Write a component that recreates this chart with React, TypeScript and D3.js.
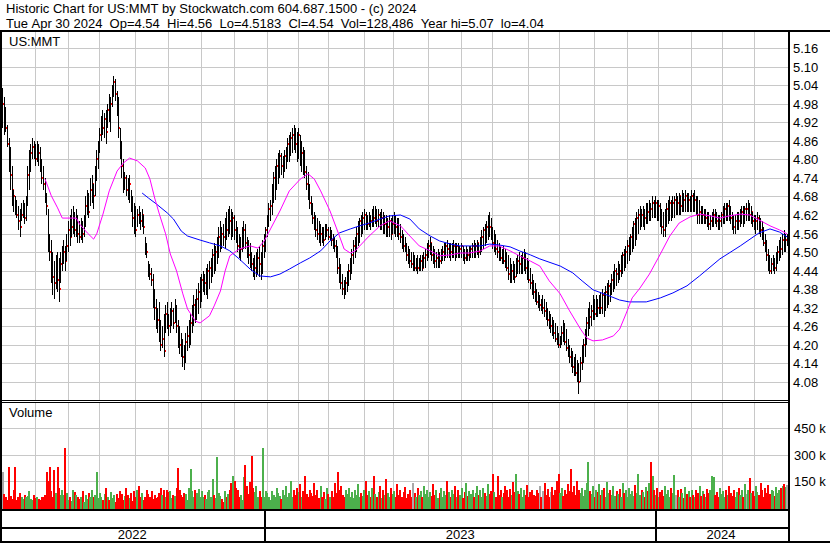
import React from "react";
import * as d3 from "d3";

const HEADER1 = "Historic Chart for US:MMT by Stockwatch.com 604.687.1500 - (c) 2024";
const HEADER2 = "Tue Apr 30 2024  Op=4.54  Hi=4.56  Lo=4.5183  Cl=4.54  Vol=128,486  Year hi=5.07  lo=4.04";
const SYMBOL = "US:MMT";

// trading days per month, May 2022 .. Apr 2024
const MONTH_DAYS = [21,21,20,23,21,21,21,21, 20,19,23,19,22,21,20,23,20,22,21,20, 21,20,20,22];
const YEARS = ["2022", "2023", "2024"];
const YEAR_FIRST_MONTH = [0, 8, 20];

const PRICE_TICKS = [5.16,5.10,5.04,4.98,4.92,4.86,4.80,4.74,4.68,4.62,4.56,4.50,4.44,4.38,4.32,4.26,4.20,4.14,4.08];
const VOLUME_TICKS = [150, 300, 450];

// prices in cents
const HIGH = [
503,500,497,491,487,484,478,470,468,467, 465,464,466,467,466,468,478,483,485,487,
486,485,486,485,484,480,478,474,469,464, 456,454,450,447,449,450,448,450,452,454,
452,456,460,462,464,465,463,464,462,460, 461,460,462,468,470,469,474,475,472,478,
483,486,490,494,496,495,496,498,501,500, 504,507,506,502,500,490,486,480,476,475,
474,475,470,468,466,465,464,465,463,464, 462,455,453,447,446,445,443,438,435,432,
434,428,426,430,433,434,430,432,434,432, 435,433,428,426,424,422,420,424,426,428,
430,433,436,435,438,440,442,443,444,443, 445,446,447,448,451,453,452,455,458,460,
458,459,461,463,464,465,464,463,462,460, 458,456,455,458,460,459,455,454,453,450,
448,449,450,451,452,450,454,456,458,462, 466,467,472,476,478,480,482,483,482,481,
483,484,487,488,489,490,491,490,489,490, 488,486,484,483,478,476,472,468,466,463,
462,461,460,459,458,458,459,459,458,458, 457,456,455,454,452,448,446,443,441,442,
444,446,448,451,454,455,458,460,461,462, 463,464,463,462,463,462,464,465,465,464,
464,463,464,463,462,462,461,462,461,462, 463,462,461,461,459,457,456,455,453,452,
451,450,450,449,448,449,448,449,449,450, 451,453,454,455,453,452,451,450,451,450,
451,452,453,453,454,453,453,453,454,453, 453,453,452,453,452,451,452,451,452,452,
453,454,453,454,453,455,457,458,459,460, 462,463,461,458,457,456,454,453,452,451,
452,451,450,449,448,446,447,446,448,449, 450,449,450,451,450,448,447,445,443,441,
440,438,437,436,435,436,435,434,432,431, 430,429,428,427,426,424,423,426,428,427,
425,422,420,419,418,416,417,415,414,416, 420,422,425,429,432,434,433,436,435,436,
435,436,437,438,437,439,440,441,440,443, 444,446,445,447,446,449,450,451,452,454,
455,456,458,460,461,463,464,465,464,465, 464,466,466,467,466,468,467,468,467,467,
466,464,463,464,466,467,468,467,468,468, 469,468,469,468,470,469,470,469,469,468,
470,469,470,468,468,467,465,465,464,464, 463,463,462,463,464,464,463,462,462,463,
465,466,466,466,467,465,463,462,462,463, 463,464,465,465,465,466,467,466,465,463,
462,462,463,462,461,460,458,456,454,451, 449,448,449,448,450,452,454,455,456,457,
456,456
];
const LOW = [
490,488,489,484,476,470,465,463,462,461, 457,455,460,461,459,460,465,470,476,480,
480,478,479,478,476,472,470,466,462,450, 447,440,436,435,438,437,434,440,444,446,
444,447,450,452,455,456,455,455,453,453, 454,453,455,458,462,461,465,466,464,468,
473,477,482,486,488,487,485,490,492,489, 497,500,499,494,487,480,474,469,470,468,
467,466,463,458,456,455,458,459,457,458, 456,449,448,442,441,439,432,428,425,424,
421,418,419,416,424,425,423,424,426,425, 427,424,419,417,416,413,412,414,418,419,
420,424,426,427,428,430,432,434,437,436, 436,435,438,440,442,443,444,446,448,450,
451,452,451,454,455,456,454,455,454,453, 450,448,447,450,451,451,448,446,445,444,
442,441,442,443,442,441,443,448,450,455, 458,460,462,466,467,470,472,474,475,474,
476,477,479,479,481,482,483,482,479,480, 478,476,475,474,470,467,464,462,459,457,
455,454,453,452,453,452,454,455,454,454, 452,451,450,448,443,440,438,436,435,436,
437,439,441,443,446,448,450,452,453,455, 456,457,457,457,458,457,458,458,459,458,
458,457,457,456,456,455,455,455,454,456, 456,455,455,454,453,451,450,450,447,446,
445,445,444,444,444,443,444,444,444,445, 445,447,448,449,447,446,445,445,445,445,
446,447,447,448,448,448,447,448,448,447, 448,448,448,448,447,446,447,447,447,448,
448,448,448,449,448,449,450,451,452,453, 454,455,454,451,450,449,448,447,447,446,
446,445,444,441,440,440,441,440,442,443, 443,443,443,444,443,441,440,438,436,435,
434,433,432,431,431,430,429,428,426,425, 424,423,422,421,420,419,419,420,421,420,
418,416,414,413,411,410,410,408,404,408, 412,414,416,420,423,425,426,428,428,429,
429,430,430,430,429,431,432,433,434,436, 437,438,439,440,441,442,443,444,445,446,
447,449,450,451,452,454,456,457,458,458, 457,459,459,460,460,461,461,461,460,460,
458,456,455,455,458,459,460,460,461,461, 462,462,462,462,463,463,463,463,463,463,
463,463,463,462,459,459,459,459,459,459, 458,457,457,458,458,459,458,457,457,458,
459,459,460,460,460,459,457,456,456,457, 457,458,459,458,459,460,460,460,459,458,
457,456,457,456,455,454,452,450,447,444, 443,443,444,443,444,446,447,448,449,450,
450,452
];
const CLOSE = [
498,496,490,485,480,475,470,468,464,462, 460,458,462,463,461,466,475,478,482,484,
483,480,484,482,477,474,472,468,465,455, 450,445,442,440,443,441,438,446,448,450,
447,452,457,455,458,460,457,461,456,455, 458,456,459,465,466,463,470,472,468,476,
480,484,488,492,490,493,489,496,495,498, 502,505,501,496,490,483,478,472,474,470,
469,472,466,461,459,457,462,461,460,462, 458,451,450,445,443,441,436,432,430,428,
425,420,422,418,430,428,426,429,431,427, 432,426,422,420,418,416,415,421,423,425,
427,431,433,432,435,437,440,441,442,440, 441,444,445,446,449,447,450,452,455,457,
456,455,459,457,462,460,458,461,457,455, 452,450,451,455,457,453,450,449,447,446,
444,445,447,448,446,444,452,454,457,460, 464,465,470,474,475,478,480,481,478,479,
481,482,485,486,487,488,487,485,484,488, 480,482,477,476,472,469,466,464,461,459,
457,456,455,456,455,454,456,457,455,456, 454,453,452,450,445,443,440,438,437,440,
442,444,446,449,452,453,456,458,460,458, 461,462,460,459,461,460,462,461,463,460,
462,459,461,458,459,457,458,460,456,459, 461,458,457,456,455,453,452,451,449,448,
447,446,446,445,446,445,446,447,445,448, 449,451,452,453,449,448,447,448,449,447,
449,450,451,452,451,452,450,451,452,449, 452,450,451,452,449,448,450,449,450,451,
452,451,452,453,450,453,455,457,456,458, 460,458,456,453,454,451,450,449,448,449,
447,446,445,443,442,444,443,442,446,447, 446,447,448,449,445,443,441,440,438,437,
436,434,433,433,432,432,431,429,428,426, 426,425,424,422,421,420,421,424,423,421,
419,417,416,415,413,412,411,410,408,414, 418,420,423,427,430,429,431,434,430,433,
432,434,432,436,433,437,438,439,437,441, 442,444,443,445,444,447,449,448,450,452,
453,455,457,459,458,461,462,463,462,463, 461,464,463,465,464,466,465,466,463,465,
460,458,457,460,464,465,466,464,466,467, 467,466,468,465,468,467,468,466,467,465,
468,466,467,464,462,463,461,462,460,461, 460,459,460,461,462,461,460,459,460,462,
463,464,463,465,464,461,459,458,460,461, 460,462,463,462,464,464,465,462,463,460,
459,460,461,458,457,456,453,452,449,446, 444,446,447,445,448,450,452,451,454,453,
454,454
];
// volume in thousands
const VOLUME = [
200,75,60,40,230,65,48,95,230,40, 55,80,60,45,70,55,62,90,45,38,
70,50,60,45,42,55,60,70,200,150, 230,90,60,210,80,230,110,70,100,70,
335,80,40,60,35,95,85,70,55,48, 60,90,30,70,45,80,55,95,55,70,
200,50,80,60,40,75,110,60,40,85, 50,70,30,75,50,90,75,40,65,110,
70,50,80,35,90,55,100,120,60,80, 40,55,100,75,60,90,45,70,50,60,
80,110,70,95,60,100,85,90,50,70, 65,110,222,95,70,60,80,75,40,110,
215,90,60,100,80,105,55,90,60,70, 45,85,100,60,160,70,50,285,80,65,
45,30,90,60,75,95,140,180,150,110, 95,60,70,40,170,240,120,75,145,290,
110,85,120,60,90,60,340,55,90,80, 60,40,90,70,55,110,80,65,45,95,
70,120,55,80,150,60,95,70,110,85, 130,60,90,175,75,55,100,80,65,140,
70,95,50,120,60,85,45,110,75,60, 90,55,140,80,200,95,120,70,60,100,
75,110,60,85,50,95,70,130,55,80, 65,100,150,70,90,55,110,180,75,60,
85,120,50,95,70,160,80,60,110,75, 90,55,130,70,100,60,85,115,50,75,
95,60,140,80,55,110,70,90,60,120, 75,100,55,85,65,130,70,95,50,80,
110,60,90,70,150,85,55,100,75,120, 60,95,70,110,50,85,140,65,90,75,
100,55,80,120,70,95,60,110,80,65, 130,75,90,190,85,60,175,70,100,55,
80,120,95,60,105,70,145,85,190,90, 75,110,55,95,70,125,60,85,100,70,
65,100,80,120,55,90,140,70,105,60, 85,115,70,95,150,190,80,110,65,100,
75,130,90,217,85,120,70,150,100,80, 110,65,95,140,257,90,75,120,60,100,
85,130,70,95,110,60,145,80,100,70, 120,65,90,75,105,55,135,80,95,60,
110,75,90,65,125,80,188,70,100,85, 60,115,90,140,257,175,95,70,110,60,
85,100,65,120,75,95,55,110,80,185, 70,95,60,105,80,50,115,75,90,60,
100,70,55,95,80,120,65,90,75,60, 105,80,95,180,170,70,85,60,110,75,
90,55,100,70,120,80,65,95,60,85, 110,70,95,60,130,75,100,165,80,90,
65,120,85,70,140,95,60,110,80,125, 75,100,90,65,115,80,95,110,120,130,
115,128
];

// moving averages: [trading-day index, price in cents]
const MA_FAST = [
[27,473.6],[31,468.2],[35,464.3],[38,461.0],[47,461.0],[49,459.1],[54,456.2],[58,454.2],[60,455.9],[64,462.3],
[68,469.8],[73,476.2],[77,478.8],[81,480.4],[86,479.5],[91,477.2],[94,473.6],[97,467.5],[100,462.3],[104,455.9],
[107,449.4],[111,443.9],[115,436.5],[118,431.6],[123,427.7],[126,427.1],[132,429.4],[135,432.6],[139,437.4],[142,443.9],
[145,448.8],[151,451.0],[158,452.0],[163,451.3],[167,453.6],[171,457.5],[177,463.3],[183,469.8],[190,473.6],[195,475.3],
[199,473.6],[203,469.8],[209,463.3],[215,455.2],[218,451.0],[222,449.7],[225,450.4],[228,452.0],[234,455.2],[241,458.5],
[247,460.1],[254,458.5],[260,455.2],[266,452.0],[273,450.4],[279,448.8],[286,449.1],[292,449.7],[298,449.7],[305,450.4],
[311,452.0],[317,452.0],[324,450.4],[330,448.8],[337,447.1],[343,445.5],[349,440.7],[356,436.5],[362,431.0],[369,425.1],
[373,422.2],[377,421.3],[383,421.6],[390,422.9],[394,425.1],[398,430.0],[402,435.2],[407,438.4],[413,442.9],[420,449.4],
[426,455.2],[432,459.4],[439,461.4],[445,462.3],[452,461.7],[458,461.0],[464,461.7],[471,462.3],[477,462.0],[483,460.4],
[490,458.5],[496,457.2],[501,455.9]
];
const MA_SLOW = [
[89,469.1],[93,467.5],[98,465.6],[105,462.7],[109,460.7],[114,456.8],[118,455.2],[126,453.9],[132,453.0],[139,452.0],
[145,450.4],[151,447.8],[158,444.5],[164,442.3],[171,442.0],[177,442.9],[183,444.5],[190,446.5],[196,448.1],[203,450.4],
[209,453.6],[215,456.2],[222,457.5],[228,458.5],[234,459.4],[241,460.7],[247,461.7],[254,462.0],[260,460.7],[266,457.5],
[273,455.2],[279,453.6],[286,452.6],[292,452.0],[298,452.0],[305,452.0],[311,452.6],[317,452.3],[324,451.7],[330,450.4],
[337,449.1],[343,447.8],[356,445.5],[364,443.3],[370,440.7],[377,437.8],[386,436.1],[394,434.5],[400,433.9],[411,433.9],
[420,435.2],[428,436.8],[437,439.1],[445,442.3],[458,447.8],[471,452.0],[483,456.2],[490,457.5],[496,456.5],[501,454.9]
];

const W = 830;
const H = 543;
const FONT = "'Liberation Sans', Arial, Helvetica, sans-serif";
const FS = 13;
const GRID = "#c8c8c8";
const UP = "#4cb04c";
const DOWN = "#ff0000";
const FLAT = "#a8a8a8";

const keepSpaces = (s: string) => s.replace(/ /g, "\u00a0");

export default function App() {
  const N = CLOSE.length;
  const PL = 2, PR = 788;
  const PT = 32, PB = 400;
  const VT = 403, VB = 509;

  const x = d3.scaleLinear().domain([0, N]).range([PL, PR]);
  const xc = (i: number) => x(i + 0.5);
  const y = d3.scaleLinear().domain([4.08, 5.16]).range([382, 48]);
  const yv = d3.scaleLinear().domain([0, 450]).range([507, 428.3]);

  const cum = Array.from(d3.cumsum(MONTH_DAYS));
  const monthStarts = cum.slice(0, cum.length - 1);
  const yearStart = YEAR_FIRST_MONTH.map((m) => (m === 0 ? 0 : cum[m - 1]));
  const yearEnd = yearStart.map((s, k) => (k < yearStart.length - 1 ? yearStart[k + 1] : N));

  const line = d3
    .line<number[]>()
    .x((d) => xc(d[0]))
    .y((d) => y(d[1] / 100));

  const volColor = (i: number) => {
    if (i === 0) return FLAT;
    if (CLOSE[i] > CLOSE[i - 1]) return UP;
    if (CLOSE[i] < CLOSE[i - 1]) return DOWN;
    return FLAT;
  };

  const bars: React.ReactNode[] = [];
  for (let i = 0; i < N; i++) {
    const bx = Math.floor(xc(i));
    const yh = Math.round(y(HIGH[i] / 100));
    const yl = Math.round(y(LOW[i] / 100));
    bars.push(<rect key={"b" + i} x={bx} y={yh} width={1} height={Math.max(1, yl - yh)} fill="#000" />);
    bars.push(
      <rect key={"c" + i} x={bx + 1} y={Math.round(y(CLOSE[i] / 100) - 1)} width={1} height={2} fill="#ff0000" />
    );
  }

  return (
    <svg
      width={W}
      height={H}
      viewBox={`0 0 ${W} ${H}`}
      style={{ position: "absolute", left: 0, top: 0, display: "block", background: "#fff" }}
      fontFamily={FONT}
      fontSize={FS}
    >
      <rect x={0} y={0} width={W} height={H} fill="#fff" />
      {/* header */}
      <text x={6} y={13} fill="#000">{keepSpaces(HEADER1)}</text>
      <text x={6} y={27.5} fill="#000">{keepSpaces(HEADER2)}</text>

      {/* grid */}
      <g shapeRendering="crispEdges">
        {PRICE_TICKS.map((t) => (
          <line key={"hp" + t} x1={PL} x2={PR} y1={Math.round(y(t)) + 0.5} y2={Math.round(y(t)) + 0.5} stroke={GRID} />
        ))}
        {VOLUME_TICKS.map((t) => (
          <line key={"hv" + t} x1={PL} x2={PR} y1={Math.round(yv(t)) + 0.5} y2={Math.round(yv(t)) + 0.5} stroke={GRID} />
        ))}
        {monthStarts.map((m) => (
          <g key={"vm" + m}>
            <line x1={Math.round(x(m)) + 0.5} x2={Math.round(x(m)) + 0.5} y1={PT} y2={PB} stroke={GRID} />
            <line x1={Math.round(x(m)) + 0.5} x2={Math.round(x(m)) + 0.5} y1={VT} y2={VB} stroke={GRID} />
          </g>
        ))}
      </g>

      {/* price bars */}
      <g shapeRendering="crispEdges">{bars}</g>

      {/* moving averages */}
      <path d={line(MA_SLOW as number[][]) || ""} fill="none" stroke="#0000ff" strokeWidth={1} />
      <path d={line(MA_FAST as number[][]) || ""} fill="none" stroke="#ff00ff" strokeWidth={1} />

      {/* volume bars */}
      <g shapeRendering="crispEdges">
        {VOLUME.map((v, i) => {
          const top = Math.round(yv(v));
          return <rect key={"v" + i} x={Math.floor(xc(i) - 0.5)} y={top} width={2} height={VB - top} fill={volColor(i)} />;
        })}
      </g>

      {/* labels inside panels */}
      <text x={9} y={46}>{SYMBOL}</text>
      <text x={9} y={417}>Volume</text>

      {/* axis labels */}
      {PRICE_TICKS.map((t) => (
        <text key={"pl" + t} x={793} y={Math.round(y(t)) + 5}>{t.toFixed(2)}</text>
      ))}
      {VOLUME_TICKS.map((t) => (
        <text key={"vl" + t} x={794} y={Math.round(yv(t)) + 5}>{keepSpaces(t + " k")}</text>
      ))}

      {/* year labels */}
      {YEARS.map((yr, k) => (
        <text key={yr} x={(x(yearStart[k]) + x(yearEnd[k])) / 2 - 2} y={539} textAnchor="middle">{yr}</text>
      ))}

      {/* frame */}
      <g shapeRendering="crispEdges" fill="#000">
        <rect x={0} y={30} width={W} height={2} />
        <rect x={0} y={30} width={2} height={H - 30} />
        <rect x={PR} y={30} width={2} height={H - 30} />
        <rect x={0} y={400} width={PR} height={1} />
        <rect x={0} y={402} width={PR} height={1} />
        <rect x={0} y={VB} width={PR} height={2} />
        <rect x={0} y={527} width={PR} height={2} />
        <rect x={0} y={541} width={W} height={2} />
        {yearStart.slice(1).map((s) => (
          <rect key={"yt" + s} x={Math.round(x(s)) - 3} y={VB} width={2} height={541 - VB} />
        ))}
      </g>
    </svg>
  );
}
